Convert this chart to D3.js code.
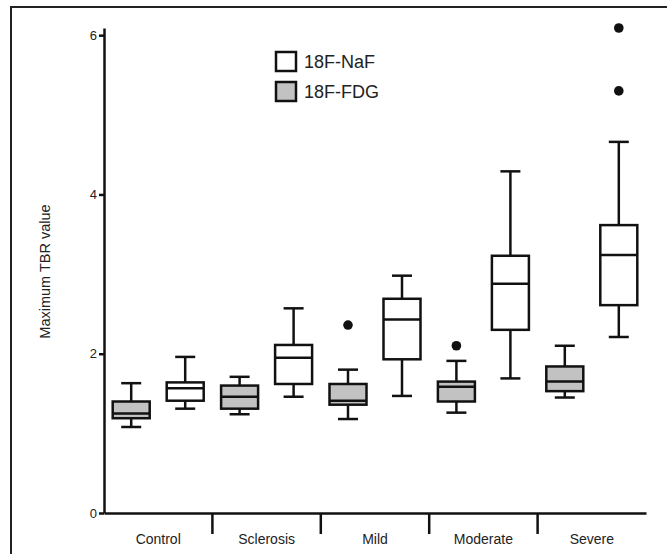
<!DOCTYPE html>
<html>
<head>
<meta charset="utf-8">
<script src="https://cdn.jsdelivr.net/npm/d3@7/dist/d3.min.js"></script>
<style>
  html, body { margin: 0; padding: 0; background: #fff; }
  svg { display: block; font-family: "Liberation Sans", Arial, Helvetica, sans-serif; }
</style>
</head>
<body>
<svg id="chart" width="667" height="554"></svg>
<script>
const categories = ["Control", "Sclerosis", "Mild", "Moderate", "Severe"];
const seriesNames = ["18F-NaF", "18F-FDG"];
const yTicks = [0, 2, 4, 6];

// 18F-NaF (white boxes)
const nafMin = [1.31, 1.46, 1.47, 1.69, 2.21];
const nafQ1  = [1.41, 1.62, 1.93, 2.30, 2.61];
const nafMed = [1.565, 1.95, 2.43, 2.88, 3.24];
const nafQ3  = [1.64, 2.11, 2.69, 3.23, 3.615];
const nafMax = [1.96, 2.57, 2.98, 4.29, 4.66];
const nafOutliers = [[], [], [], [], [5.30, 6.09]];

// 18F-FDG (grey boxes)
const fdgMin = [1.08, 1.24, 1.18, 1.26, 1.45];
const fdgQ1  = [1.19, 1.31, 1.36, 1.40, 1.53];
const fdgMed = [1.25, 1.46, 1.41, 1.585, 1.65];
const fdgQ3  = [1.40, 1.60, 1.62, 1.65, 1.84];
const fdgMax = [1.63, 1.71, 1.80, 1.91, 2.10];
const fdgOutliers = [[], [], [2.36], [2.10], []];

const svg = d3.select("#chart");
const ink = "#111";

// outer frame
svg.append("path").attr("d", "M11,560 L11,7 L670,7")
  .attr("fill", "none").attr("stroke", "#222").attr("stroke-width", 2);

const x = d3.scaleBand().domain(categories).range([104, 646]).padding(0);
const y = d3.scaleLinear().domain([0, 6.09]).range([513, 28]);

// y axis
const yAxis = svg.append("g").attr("transform", "translate(104,0)")
  .call(d3.axisLeft(y).tickValues(yTicks).tickFormat(d3.format("d")).tickSize(5).tickSizeOuter(0).tickPadding(2));
yAxis.select(".domain").attr("stroke", ink).attr("stroke-width", 2.5);
yAxis.selectAll(".tick line").attr("stroke", ink).attr("stroke-width", 2.5);
yAxis.selectAll(".tick text").attr("font-size", 13).attr("fill", "#222")
  .attr("font-family", "Liberation Sans, Arial, sans-serif");

// x axis
const xAxis = svg.append("g").attr("transform", `translate(0,${y(0)})`)
  .call(d3.axisBottom(x).tickSize(0).tickSizeOuter(0).tickPadding(21));
xAxis.select(".domain").attr("stroke", ink).attr("stroke-width", 2.5);
xAxis.selectAll(".tick text").attr("font-size", 14).attr("fill", "#222")
  .attr("font-family", "Liberation Sans, Arial, sans-serif");
// category separators
svg.append("g").selectAll("line").data(categories.slice(1)).join("line")
  .attr("x1", d => x(d)).attr("x2", d => x(d))
  .attr("y1", y(0)).attr("y2", y(0) + 21)
  .attr("stroke", ink).attr("stroke-width", 2.5);

// y label
svg.append("text")
  .attr("transform", `translate(50,${(y(0) + y(6.09)) / 2 + 1}) rotate(-90)`)
  .attr("text-anchor", "middle").attr("font-size", 14.5).attr("fill", "#222")
  .text("Maximum TBR value");

function series(mins, q1s, meds, q3s, maxs, outs, offset, fill) {
  const boxW = 37, capW = 20;
  const data = categories.map((c, i) => ({
    c, min: mins[i], q1: q1s[i], med: meds[i], q3: q3s[i], max: maxs[i], outs: outs[i],
    cx: x(c) + x.bandwidth() / 2 + offset
  }));
  const g = svg.append("g");
  const grp = g.selectAll("g").data(data).join("g");
  grp.append("line")
    .attr("x1", d => d.cx).attr("x2", d => d.cx)
    .attr("y1", d => y(d.max)).attr("y2", d => y(d.q3))
    .attr("stroke", ink).attr("stroke-width", 2.5);
  grp.append("line")
    .attr("x1", d => d.cx).attr("x2", d => d.cx)
    .attr("y1", d => y(d.q1)).attr("y2", d => y(d.min))
    .attr("stroke", ink).attr("stroke-width", 2.5);
  grp.append("line")
    .attr("x1", d => d.cx - capW / 2).attr("x2", d => d.cx + capW / 2)
    .attr("y1", d => y(d.max)).attr("y2", d => y(d.max))
    .attr("stroke", ink).attr("stroke-width", 2.5);
  grp.append("line")
    .attr("x1", d => d.cx - capW / 2).attr("x2", d => d.cx + capW / 2)
    .attr("y1", d => y(d.min)).attr("y2", d => y(d.min))
    .attr("stroke", ink).attr("stroke-width", 2.5);
  grp.append("rect")
    .attr("x", d => d.cx - boxW / 2).attr("width", boxW)
    .attr("y", d => y(d.q3)).attr("height", d => y(d.q1) - y(d.q3))
    .attr("fill", fill).attr("stroke", ink).attr("stroke-width", 2.5);
  grp.append("line")
    .attr("x1", d => d.cx - boxW / 2).attr("x2", d => d.cx + boxW / 2)
    .attr("y1", d => y(d.med)).attr("y2", d => y(d.med))
    .attr("stroke", ink).attr("stroke-width", 2.5);
  grp.selectAll("circle").data(d => d.outs.map(v => ({ v, cx: d.cx }))).join("circle")
    .attr("cx", d => d.cx).attr("cy", d => y(d.v)).attr("r", 4.8).attr("fill", ink);
}

series(fdgMin, fdgQ1, fdgMed, fdgQ3, fdgMax, fdgOutliers, -27, "#c2c2c2");
series(nafMin, nafQ1, nafMed, nafQ3, nafMax, nafOutliers, 27, "#ffffff");

// legend
const legendFills = ["#ffffff", "#c2c2c2"];
const lg = svg.append("g").attr("transform", "translate(276,52)");
const items = lg.selectAll("g").data(seriesNames).join("g")
  .attr("transform", (d, i) => `translate(0,${i * 30})`);
items.append("rect").attr("width", 20).attr("height", 19)
  .attr("fill", (d, i) => legendFills[i]).attr("stroke", ink).attr("stroke-width", 2.5);
items.append("text").attr("x", 28).attr("y", 10).attr("dy", "0.35em")
  .attr("font-size", 18).attr("fill", "#222").text(d => d);
</script>
</body>
</html>
